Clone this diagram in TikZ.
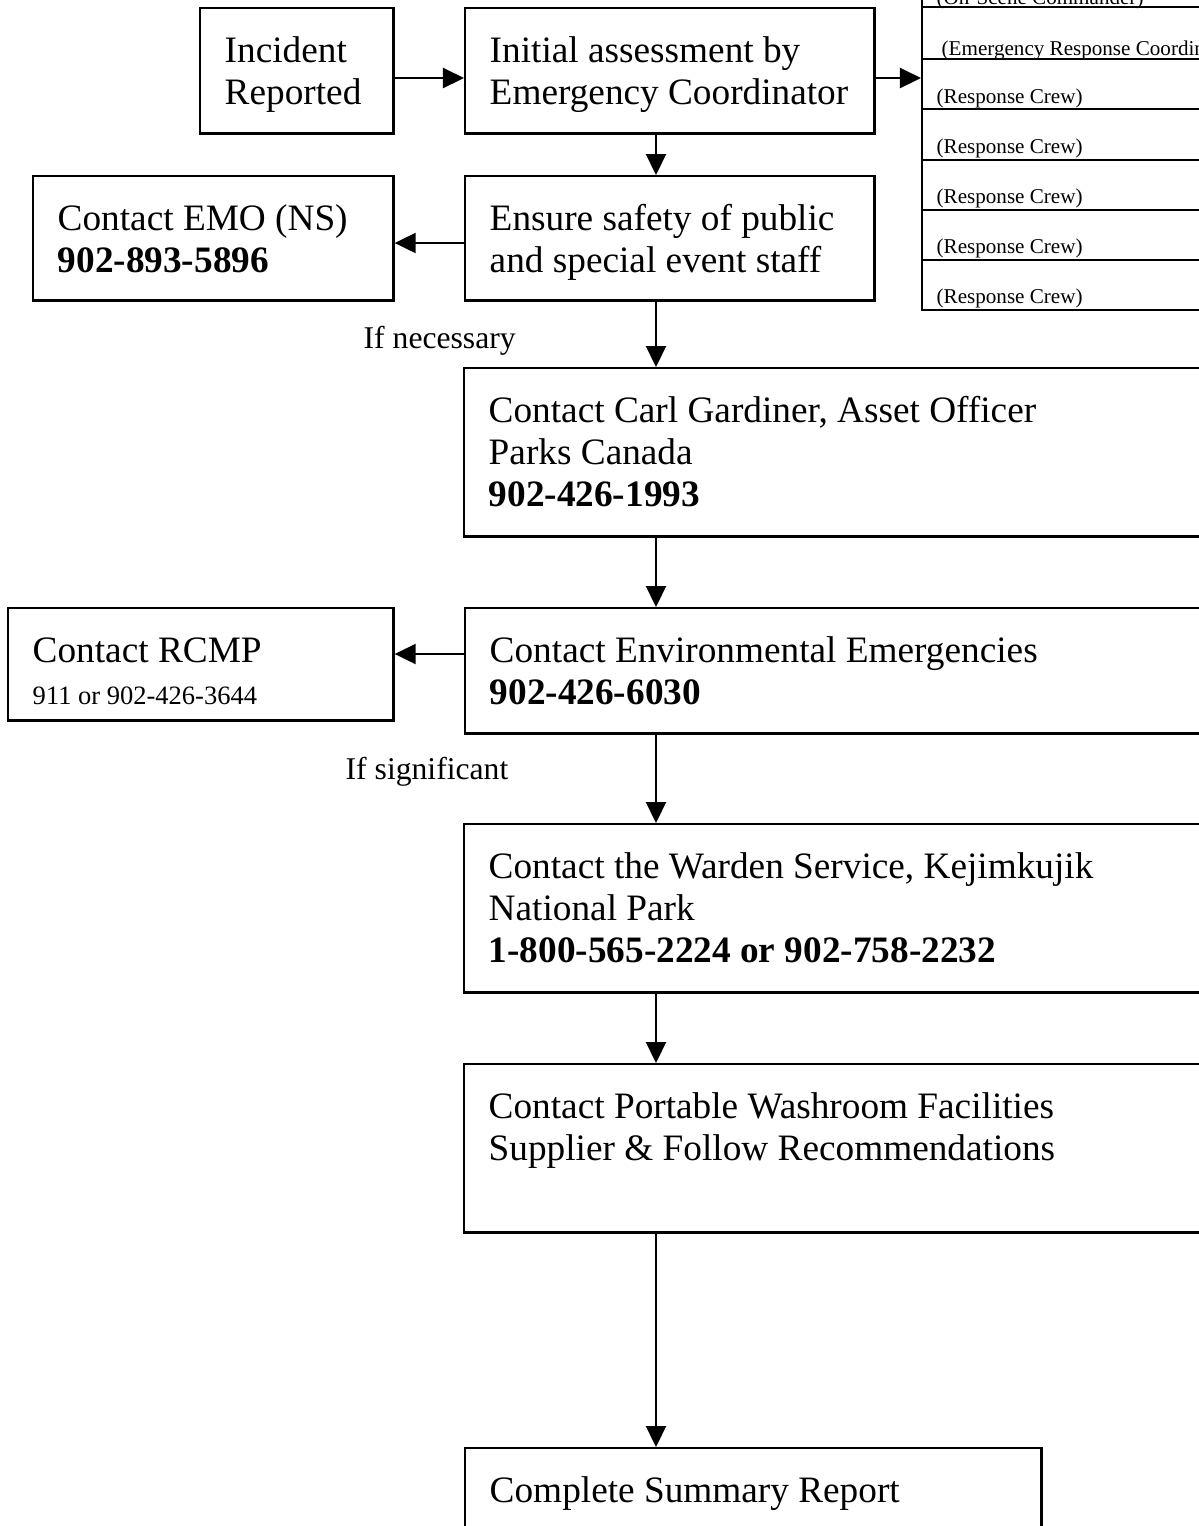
\documentclass[tikz,border=0pt]{standalone}
\usepackage{fontspec}
\setmainfont{Liberation Serif}
\usetikzlibrary{arrows.meta}

\newcommand{\boxfont}{\fontsize{10.6pt}{11.95pt}\selectfont}
\newcommand{\notefont}{\fontsize{9pt}{10.3pt}\selectfont}
\newcommand{\phonefont}{\fontsize{7.54pt}{9.39pt}\selectfont}
\newcommand{\crewfont}{\fontsize{6pt}{7pt}\selectfont}

\begin{document}
\begin{tikzpicture}[x=0.01cm, y=-0.01cm,
  flow/.style 2 args={draw, line width=0.7pt, anchor=north west, align=flush left,
    font=\boxfont, inner xsep=0.245cm, inner ysep=0pt,
    text height=0.54cm, text width=#1, text depth=#2},
  arr/.style={-{Triangle[length=0.21cm, width=0.2cm]}, line width=0.6pt},
  note/.style={font=\notefont, anchor=base west, inner sep=0pt},
  crew/.style={font=\crewfont, anchor=base west, inner sep=0pt},
  rule/.style={line width=0.6pt}]

  \useasboundingbox (0,0) rectangle (1199,1526);
  \clip (0,0) rectangle (1199,1526);

  % Top row
  \node[flow={1.44cm}{0.71cm}] (incident) at (199,7) {Incident\\Reported};
  \node[flow={3.60cm}{0.71cm}] (initial) at (464,7) {Initial assessment by\\Emergency Coordinator};

  % Second row
  \node[flow={3.11cm}{0.70cm}] (emo) at (32,175) {Contact EMO (NS)\\\textbf{902-893-5896}};
  \node[flow={3.60cm}{0.70cm}] (ensure) at (464,175) {Ensure safety of public\\and special event staff};

  % Contact boxes
  \node[flow={7.48cm}{1.14cm}] (carl) at (463,367) {Contact Carl Gardiner, Asset Officer\\Parks Canada\\\textbf{902-426-1993}};
  \node[flow={7.48cm}{0.71cm}] (enviro) at (464,607) {Contact Environmental Emergencies\\\textbf{902-426-6030}};
  \node[flow={3.36cm}{0.58cm}] (rcmp) at (7,607) {Contact RCMP\\\phonefont 911 or 902-426-3644};
  \node[flow={7.48cm}{1.14cm}] (warden) at (463,823) {Contact the Warden Service, Kejimkujik\\National Park\\\textbf{1-800-565-2224 or 902-758-2232}};
  \node[flow={7.48cm}{1.14cm}] (washroom) at (463,1063) {Contact Portable Washroom Facilities\\Supplier \& Follow Recommendations};
  \node[flow={5.27cm}{1.06cm}] (summary) at (464,1447) {Complete Summary Report};

  % Response team table
  \node[draw, rule, anchor=south west, minimum width=3.4cm, minimum height=4.2cm, inner sep=0pt] (roster) at (921,311) {};
  \draw[rule] (921,7) -- (1261,7);
  \draw[rule] (921,59) -- (1261,59);
  \draw[rule] (921,109) -- (1261,109);
  \draw[rule] (921,160) -- (1261,160);
  \draw[rule] (921,210) -- (1261,210);
  \draw[rule] (921,260) -- (1261,260);

  \node[crew] (oncmd) at (936,4) {(On-Scene Commander)};
  \node[crew] (erc) at (941,55) {(Emergency Response Coordinator)};
  \node[crew] (crew1) at (936,103) {(Response Crew)};
  \node[crew] (crew2) at (936,153) {(Response Crew)};
  \node[crew] (crew3) at (936,203) {(Response Crew)};
  \node[crew] (crew4) at (936,253) {(Response Crew)};
  \node[crew] (crew5) at (936,303) {(Response Crew)};

  % Notes
  \node[note] (ifnec) at (363,348) {If necessary};
  \node[note] (ifsig) at (345,779) {If significant};

  % Arrows
  \coordinate (spine) at (656,0);
  \coordinate (lvl1) at (0,78);
  \coordinate (lvl2) at (0,243);
  \coordinate (lvl3) at (0,654);

  \draw[arr] (incident.east |- lvl1) -- (initial.west |- lvl1);
  \draw[arr] (initial.east |- lvl1) -- (roster.west |- lvl1);
  \draw[arr] (ensure.west |- lvl2) -- (emo.east |- lvl2);
  \draw[arr] (enviro.west |- lvl3) -- (rcmp.east |- lvl3);

  \draw[arr] (initial.south -| spine) -- (ensure.north -| spine);
  \draw[arr] (ensure.south -| spine) -- (carl.north -| spine);
  \draw[arr] (carl.south -| spine) -- (enviro.north -| spine);
  \draw[arr] (enviro.south -| spine) -- (warden.north -| spine);
  \draw[arr] (warden.south -| spine) -- (washroom.north -| spine);
  \draw[arr] (washroom.south -| spine) -- (summary.north -| spine);

\end{tikzpicture}
\end{document}
